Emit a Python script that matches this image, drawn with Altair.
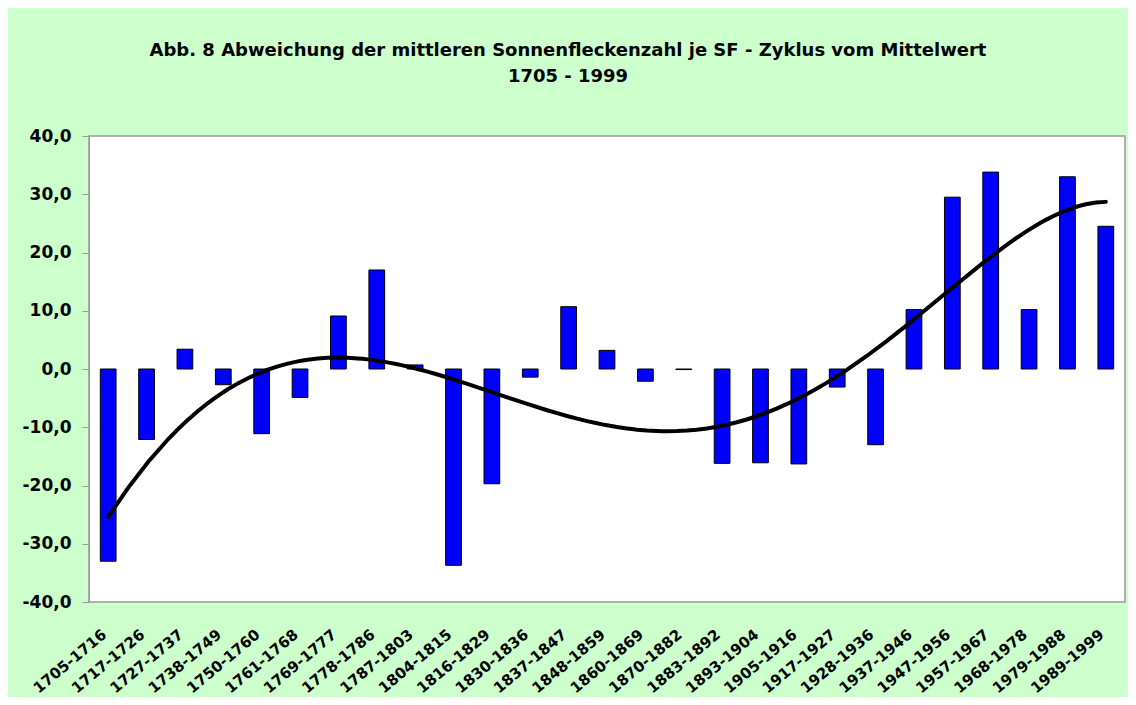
import altair as alt
import pandas as pd

periods = ["1705-1716", "1717-1726", "1727-1737", "1738-1749", "1750-1760", "1761-1768",
           "1769-1777", "1778-1786", "1787-1803", "1804-1815", "1816-1829", "1830-1836",
           "1837-1847", "1848-1859", "1860-1869", "1870-1882", "1883-1892", "1893-1904",
           "1905-1916", "1917-1927", "1928-1936", "1937-1946", "1947-1956", "1957-1967",
           "1968-1978", "1979-1988", "1989-1999"]
deviation = [-33.0, -12.1, 3.4, -2.7, -11.1, -4.9, 9.1, 17.0, 0.7, -33.7, -19.7, -1.4,
             10.7, 3.2, -2.1, -0.1, -16.2, -16.1, -16.3, -3.1, -13.0, 10.2, 29.5, 33.8,
             10.2, 33.0, 24.5]
y_ticks = [-40, -30, -20, -10, 0, 10, 20, 30, 40]
title_lines = ["Abb. 8  Abweichung der mittleren Sonnenfleckenzahl je SF - Zyklus vom Mittelwert",
               "1705 - 1999"]

FONT = "DejaVu Sans"
df = pd.DataFrame({"period": periods, "value": deviation})

yscale = alt.Scale(domain=[-40, 40], nice=False, zero=False)
yaxis = alt.Axis(title=None, values=y_ticks, grid=False, labelFont=FONT, labelFontSize=17,
                 labelFontWeight="bold", labelColor="black", tickColor="#999999", tickSize=7,
                 domainColor="#999999", labelPadding=11,
                 labelExpr="(datum.value < 0 ? '-' : '') + replace(format(abs(datum.value), '.1f'), '.', ',')")

base = alt.Chart(df)

bars = base.mark_bar(color="#0000FF", stroke="#000000", strokeWidth=1).encode(
    x=alt.X("period:N", sort=None,
            scale=alt.Scale(paddingInner=0.59, paddingOuter=0.295),
            axis=alt.Axis(title=None, labelAngle=-40, labelAlign="right", labelBaseline="middle",
                          labelFont=FONT, labelFontSize=15, labelFontWeight="bold",
                          labelColor="black", ticks=False, domain=False, labelPadding=30,
                          labelOffset=-4)),
    y=alt.Y("value:Q", scale=yscale, axis=yaxis),
)

# polynomial trend line (order 5) fitted by Vega-Lite's regression transform
trend = base.transform_window(idx="row_number()").transform_regression(
    "idx", "value", method="poly", order=5, extent=[1, 27]
).mark_line(color="black", strokeWidth=4, strokeCap="round").encode(
    x=alt.X("idx:Q", scale=alt.Scale(domain=[0.5, 27.5], nice=False, zero=False), axis=None),
    y=alt.Y("value:Q", scale=yscale, axis=yaxis),
)

chart = alt.layer(bars, trend).resolve_scale(
    x="independent"
).properties(
    width=1036, height=466,
    padding={"left": 81, "top": 128, "right": 3, "bottom": 95},
    autosize=alt.AutoSizeParams(type="none"),
    background="#CCFFCC",
    title=alt.TitleParams(text=title_lines, font=FONT, fontSize=18, fontWeight="bold",
                          color="black", anchor="middle", dx=-39, offset=41, lineHeight=26),
).configure_view(stroke="#999999", strokeWidth=1.5, fill="white")

chart.save("out.html", embed_options={"renderer": "svg", "actions": False})
